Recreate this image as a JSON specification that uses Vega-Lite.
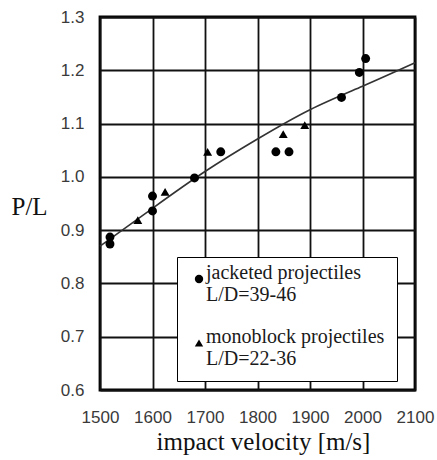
{
  "$schema": "https://vega.github.io/schema/vega-lite/v6.json",
  "width": 315,
  "height": 373,
  "autosize": {"type": "none"},
  "padding": {"left": 100, "top": 17, "right": 22, "bottom": 70},
  "background": "white",
  "config": {
    "view": {"stroke": "black", "strokeWidth": 2.8},
    "axis": {
      "grid": true,
      "gridColor": "#111111",
      "gridWidth": 1.8,
      "gridOpacity": 1,
      "domain": false,
      "ticks": false,
      "tickSize": 0,
      "labelFont": "Liberation Sans",
      "labelFontSize": 17,
      "labelColor": "#3a3a3a",
      "titleFont": "Liberation Serif",
      "titleFontSize": 25,
      "titleFontWeight": "normal",
      "titleColor": "#111111"
    },
    "legend": {
      "labelFont": "Liberation Serif",
      "labelFontSize": 20
    }
  },
  "layer": [
    {
      "data": {"values": [
        {"v": 1500, "pl": 0.870},
        {"v": 1600, "pl": 0.941},
        {"v": 1700, "pl": 1.010},
        {"v": 1800, "pl": 1.071},
        {"v": 1900, "pl": 1.126},
        {"v": 2000, "pl": 1.170},
        {"v": 2100, "pl": 1.214}
      ]},
      "mark": {"type": "line", "color": "#333333", "strokeWidth": 1.6, "interpolate": "natural"},
      "encoding": {
        "x": {
          "field": "v", "type": "quantitative",
          "scale": {"domain": [1500, 2100], "nice": false, "zero": false},
          "axis": {
            "values": [1500, 1600, 1700, 1800, 1900, 2000, 2100],
            "format": "d",
            "labelBaseline": "alphabetic",
            "labelPadding": 32,
            "labelFlush": false,
            "title": "impact velocity [m/s]",
            "titleX": 163,
            "titleY": 59,
            "titleAlign": "center",
            "titleBaseline": "alphabetic"
          }
        },
        "y": {
          "field": "pl", "type": "quantitative",
          "scale": {"domain": [0.6, 1.3], "nice": false, "zero": false},
          "axis": {
            "values": [0.6, 0.7, 0.8, 0.9, 1.0, 1.1, 1.2, 1.3],
            "format": ".1f",
            "labelPadding": 16,
            "labelFlush": false,
            "title": "P/L",
            "titleAngle": 0,
            "titleX": -89,
            "titleY": 189,
            "titleAlign": "left",
            "titleBaseline": "middle"
          }
        }
      }
    },
    {
      "data": {"values": [
        {"v": 1519, "pl": 0.887, "type": "jacketed projectiles"},
        {"v": 1519, "pl": 0.874, "type": "jacketed projectiles"},
        {"v": 1600, "pl": 0.964, "type": "jacketed projectiles"},
        {"v": 1600, "pl": 0.936, "type": "jacketed projectiles"},
        {"v": 1680, "pl": 0.998, "type": "jacketed projectiles"},
        {"v": 1730, "pl": 1.047, "type": "jacketed projectiles"},
        {"v": 1835, "pl": 1.047, "type": "jacketed projectiles"},
        {"v": 1860, "pl": 1.047, "type": "jacketed projectiles"},
        {"v": 1960, "pl": 1.149, "type": "jacketed projectiles"},
        {"v": 1994, "pl": 1.196, "type": "jacketed projectiles"},
        {"v": 2006, "pl": 1.222, "type": "jacketed projectiles"},
        {"v": 1572, "pl": 0.919, "type": "monoblock projectiles"},
        {"v": 1624, "pl": 0.972, "type": "monoblock projectiles"},
        {"v": 1705, "pl": 1.047, "type": "monoblock projectiles"},
        {"v": 1849, "pl": 1.080, "type": "monoblock projectiles"},
        {"v": 1890, "pl": 1.097, "type": "monoblock projectiles"}
      ]},
      "mark": {"type": "point", "filled": true, "opacity": 1, "color": "black", "size": 80},
      "encoding": {
        "x": {"field": "v", "type": "quantitative"},
        "y": {"field": "pl", "type": "quantitative"},
        "shape": {
          "field": "type", "type": "nominal",
          "scale": {"domain": ["jacketed projectiles", "monoblock projectiles"], "range": ["circle", "triangle-up"]},
          "legend": {
            "orient": "none",
            "legendX": 77,
            "legendY": 240,
            "title": null,
            "fillColor": "white",
            "strokeColor": "black",
            "padding": 12,
            "symbolSize": 70,
            "symbolFillColor": "black",
            "symbolStrokeWidth": 0,
            "labelFont": "Liberation Serif",
            "labelFontSize": 20,
            "labelColor": "#1a1a1a",
            "labelLimit": 0,
            "labelBaseline": "alphabetic",
            "labelOffset": -3,
            "rowPadding": 22,
            "labelExpr": "datum.label == 'jacketed projectiles' ? ['jacketed projectiles', 'L/D=39-46'] : ['monoblock projectiles', 'L/D=22-36']",
            "encode": {
              "labels": {"update": {
                "font": {"value": "Liberation Serif"},
                "fontSize": {"value": 20},
                "lineHeight": {"value": 19},
                "dy": {"value": 4}
              }},
              "legend": {"update": {"strokeWidth": {"value": 2.2}}}
            }
          }
        }
      }
    }
  ]
}
